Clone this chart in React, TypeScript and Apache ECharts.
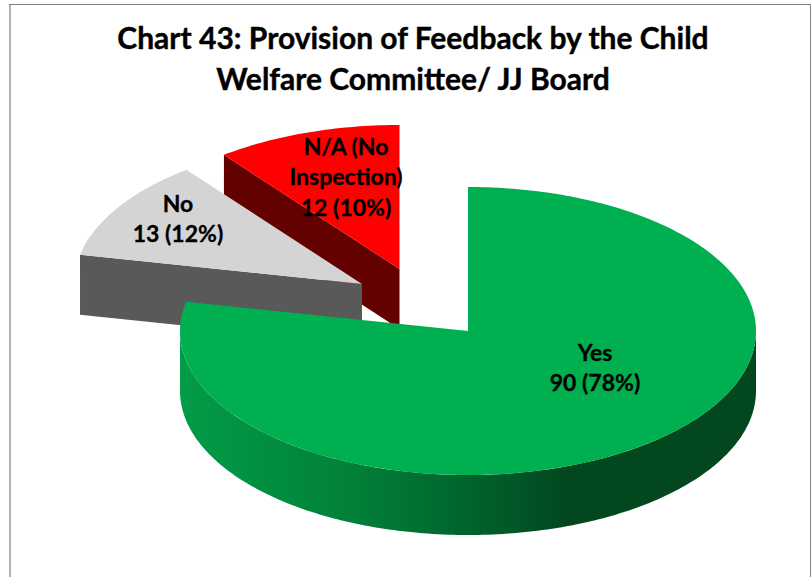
import React, { useEffect, useRef } from "react";
import * as echarts from "echarts";

const TITLE = "Chart 43: Provision of Feedback by the Child\nWelfare Committee/ JJ Board";
const categories = ["Yes", "No", "N/A (No\nInspection)"];
const values = [90, 13, 12];
const percentLabels = ["78%", "12%", "10%"];

const RX = 288;
const RY = 144;
const DEPTH = 60;
const centers = [[468, 331], [362, 284], [399.5, 269]];
const labelPos = [[595, 367], [178, 218], [346, 176]];
const topColors = ["#00AF50", "#D4D4D4", "#FF0000"];
const sideColors = ["#00AF50", "#595959", "#630000"];
const layers = [30, 20, 10];

const total = values.reduce((a, b) => a + b, 0);
const FONT = "Lato, Carlito, sans-serif";

function pt(c: number[], deg: number, dy = 0): number[] {
  const r = (deg * Math.PI) / 180;
  return [c[0] + RX * Math.sin(r), c[1] - RY * Math.cos(r) + dy];
}

function arcPts(c: number[], a0: number, a1: number, dy = 0): number[][] {
  const out: number[][] = [];
  const n = Math.max(2, Math.ceil(Math.abs(a1 - a0) / 1));
  for (let i = 0; i <= n; i++) out.push(pt(c, a0 + ((a1 - a0) * i) / n, dy));
  return out;
}

function renderItem(params: any, api: any) {
  const i = params.dataIndex;
  const v = api.value(0);
  let startVal = 0;
  for (let k = 0; k < i; k++) startVal += values[k];
  const a0 = (startVal / total) * 360;
  const a1 = ((startVal + v) / total) * 360;
  const c = centers[i];
  const z = layers[i];
  const children: any[] = [];

  // visible outer rim (front half of the ellipse)
  const f0 = Math.max(a0, 90);
  const f1 = Math.min(a1, 270);
  if (f1 > f0) {
    const rim = [...arcPts(c, f0, f1), ...arcPts(c, f1, f0, DEPTH)];
    children.push({
      type: "polygon",
      z2: z,
      shape: { points: rim },
      style: {
        fill: new echarts.graphic.LinearGradient(0, 0, 1, 0, [
          { offset: 0, color: "#019C48" },
          { offset: 0.3, color: "#018039" },
          { offset: 0.55, color: "#005C29" },
          { offset: 0.67, color: "#03471F" },
          { offset: 1, color: "#03471F" },
        ]),
      },
    });
  }
  // cut faces that look towards the viewer
  if (i > 0) {
    const apex = c;
    const rimEnd = pt(c, a0);
    children.push({
      type: "polygon",
      z2: z,
      shape: {
        points: [apex, rimEnd, [rimEnd[0], rimEnd[1] + DEPTH], [apex[0], apex[1] + DEPTH]],
      },
      style: { fill: sideColors[i] },
    });
  }
  // top surface
  children.push({
    type: "polygon",
    z2: z + 1,
    shape: { points: [c, ...arcPts(c, a0, a1)] },
    style: { fill: topColors[i] },
  });
  // data label
  children.push({
    type: "text",
    z2: 100,
    x: labelPos[i][0],
    y: labelPos[i][1],
    style: {
      text: `${categories[i]}\n${v} (${percentLabels[i]})`,
      font: `bold 23px ${FONT}`,
      fill: "#000",
      stroke: "#000",
      lineWidth: 0.3,
      align: "center",
      verticalAlign: "middle",
      lineHeight: 30.5,
    },
  });
  return { type: "group", children };
}

export default function App() {
  const ref = useRef<HTMLDivElement>(null);
  useEffect(() => {
    const chart = echarts.init(ref.current!, undefined, { renderer: "svg" });
    chart.setOption({
      animation: false,
      backgroundColor: "#fff",
      title: {
        text: TITLE,
        left: 408,
        textAlign: "center",
        top: 11,
        textStyle: {
          fontFamily: FONT,
          fontWeight: "bold",
          fontSize: 30,
          lineHeight: 41,
          color: "#000",
          textBorderColor: "#000",
          textBorderWidth: 0.4,
        },
      },
      series: [
        {
          type: "custom",
          coordinateSystem: "none",
          silent: true,
          renderItem,
          data: values.map((v) => [v]),
        },
      ],
      graphic: [
        {
          type: "line",
          silent: true,
          shape: { x1: 10, y1: 4, x2: 10, y2: 577 },
          style: { stroke: "#B2B2B2", lineWidth: 2 },
        },
        {
          type: "polyline",
          silent: true,
          shape: { points: [[9, 4.5], [810.5, 4.5], [810.5, 577]] },
          style: { stroke: "#7F7F7F", lineWidth: 1, fill: "none" },
        },
      ],
    });
    return () => chart.dispose();
  }, []);
  return (
    <div
      ref={ref}
      style={{ position: "absolute", left: 0, top: 0, width: 811, height: 577 }}
    />
  );
}
